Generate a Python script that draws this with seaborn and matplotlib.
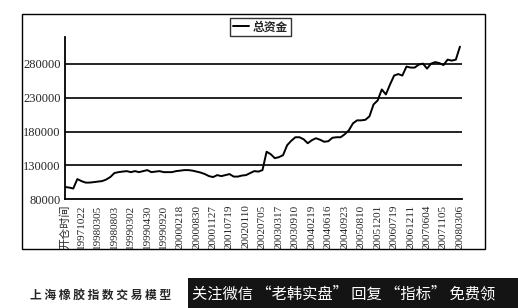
import matplotlib
matplotlib.use("Agg")
import matplotlib.pyplot as plt
import matplotlib.patches as mpatches
import seaborn as sns
import pandas as pd
import numpy as np

# ---- data ----
label_dates = ["开仓时间", "19971022", "19980305", "19980803", "19990302", "19990430",
               "19990920", "20000218", "20000830", "20001127", "20010719", "20020110",
               "20020705", "20030317", "20030910", "20040219", "20040616", "20040923",
               "20050810", "20051201", "20060719", "20061211", "20070604", "20071105",
               "20080306"]

total_funds = [
    97700, 97000, 95500, 109500, 106500, 104300, 104300, 105000,
    105800, 106500, 108800, 112500, 118400, 119800, 120600, 121300,
    119800, 121300, 119800, 121300, 122800, 119800, 120600, 121300,
    119800, 119800, 119800, 121300, 122000, 122800, 122800, 122000,
    120600, 119100, 116900, 113900, 112500, 115400, 113900, 115400,
    116900, 113200, 113200, 114700, 115400, 118400, 121300, 120600,
    122800, 150000, 146400, 140500, 142000, 144900, 159700, 166300,
    171500, 171500, 168500, 162600, 167100, 170000, 167800, 164800,
    165600, 170700, 171500, 171500, 175900, 181800, 192100, 196500,
    196500, 197300, 202400, 220100, 226000, 242300, 234900, 249600,
    262900, 265100, 262900, 276200, 274700, 274700, 279100, 280600,
    273200, 280600, 282800, 281300, 278400, 286500, 285000, 286500,
    305700,
]
series_name = "总资金"
y_ticks = [80000, 130000, 180000, 230000, 280000]
caption = "上 海 橡 胶 指 数 交 易 模 型"
banner = "关注微信 “老韩实盘” 回复 “指标” 免费领"

points_per_label = 4

# ---- figure ----
sns.set_style("white")
plt.rcParams["font.family"] = ["Liberation Serif", "Noto Sans CJK SC", "DejaVu Sans"]

W, H = 518, 308
fig = plt.figure(figsize=(W / 100, H / 100), dpi=100)
fig.patch.set_facecolor("white")

ax = fig.add_axes([65 / W, (H - 199) / H, (462 - 65) / W, (199 - 37) / H])
df = pd.DataFrame({"idx": np.arange(len(total_funds)), "val": total_funds})
sns.lineplot(data=df, x="idx", y="val", ax=ax, color="black", linewidth=1.4,
             label=series_name)

ax.set_xlim(0, len(total_funds) - 0.5)
ax.set_ylim(80000, 320000)
ax.set_yticks(y_ticks)
ax.set_yticklabels([str(v) for v in y_ticks], fontsize=9)
for v in y_ticks[1:]:
    ax.axhline(v, color="black", linewidth=1.2, zorder=0)

xt = np.arange(len(total_funds))
ax.set_xticks(xt)
ax.set_xticks(xt[:-1] + 0.5, minor=True)
labels = []
for i in xt:
    labels.append(label_dates[i // points_per_label] if i % points_per_label == 0 else "")
ax.set_xticklabels(labels, rotation=90, fontsize=8,
                   family=["Liberation Serif", "Noto Sans CJK SC"])
ax.tick_params(axis="x", which="both", direction="out", length=3, width=0.7,
               pad=1, color="black")
ax.tick_params(axis="y", direction="out", length=0, pad=3)
ax.set_xlabel("")
ax.set_ylabel("")
for s in ["top", "right"]:
    ax.spines[s].set_visible(False)
for s in ["left", "bottom"]:
    ax.spines[s].set_color("black")
    ax.spines[s].set_linewidth(1.3)

leg = ax.legend(loc="center", bbox_to_anchor=(260.5 / W, 1 - 27 / H),
                bbox_transform=fig.transFigure, frameon=True, fancybox=False,
                handlelength=1.3, handletextpad=0.3, borderpad=0.25,
                prop={"family": ["Noto Sans CJK SC"], "size": 8.5, "weight": "bold"})
leg.get_frame().set_edgecolor("black")
leg.get_frame().set_linewidth(1.0)

# outer frame
fig.patches.append(mpatches.Rectangle((22 / W, (H - 249) / H), (485 - 22) / W,
                                      (249 - 14) / H, transform=fig.transFigure,
                                      fill=False, edgecolor="black", linewidth=1.0))

# caption + banner
fig.text(30 / W, 1 - 295 / H, caption, fontsize=8.5, fontweight="bold",
         family=["Noto Sans CJK SC"], va="center", ha="left")
fig.patches.append(mpatches.Rectangle((188 / W, 0), 1 - 188 / W, 30 / H,
                                      transform=fig.transFigure, facecolor="#141414",
                                      edgecolor="none", zorder=5))
fig.text(192 / W, 1 - 294 / H, banner, fontsize=11, color="white",
         family=["Noto Sans CJK SC"], va="center", ha="left", zorder=6)

fig.savefig("out.png", dpi=100)
